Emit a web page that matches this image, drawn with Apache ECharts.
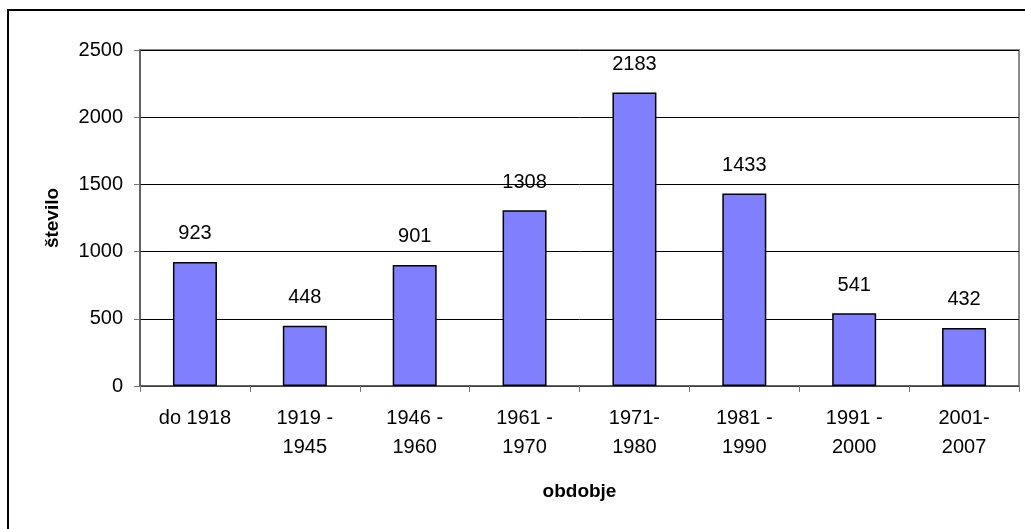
<!DOCTYPE html>
<html>
<head>
<meta charset="utf-8">
<script src="https://cdn.jsdelivr.net/npm/echarts@6/dist/echarts.min.js"></script>
<style>
  html, body { margin: 0; padding: 0; background: #fff; }
  #chart { width: 1025px; height: 529px; }
</style>
</head>
<body>
<div id="chart"></div>
<script>
// obdobja (x os) in število (y os)
const categories = ['do 1918', '1919 -\n1945', '1946 -\n1960', '1961 -\n1970', '1971-\n1980', '1981 -\n1990', '1991 -\n2000', '2001-\n2007'];
const values = [923, 448, 901, 1308, 2183, 1433, 541, 432];
const yTicks = [0, 500, 1000, 1500, 2000, 2500];

const font = "'Liberation Sans', Arial, sans-serif";
const chart = echarts.init(document.getElementById('chart'));

const option = {
  backgroundColor: '#fff',
  animation: false,
  textStyle: { fontFamily: font },
  // zunanji okvir
  graphic: [{
    type: 'rect',
    shape: { x: 8, y: 10, width: 1040, height: 560 },
    style: { fill: 'none', stroke: '#000', lineWidth: 2 },
    silent: true
  }],
  grid: {
    left: 140,
    right: 6,
    top: 50,
    bottom: 143,
    show: true,
    borderColor: '#8c8c8c',
    borderWidth: 2
  },
  xAxis: {
    type: 'category',
    data: categories,
    name: 'obdobje',
    nameLocation: 'middle',
    nameGap: 96,
    nameTextStyle: { color: '#000', fontSize: 19, fontWeight: 'bold', fontFamily: font },
    axisLine: { lineStyle: { color: '#555', width: 1.5 } },
    axisTick: { show: true, length: 6, lineStyle: { color: '#777' } },
    axisLabel: { color: '#000', fontSize: 20, lineHeight: 29, margin: 18, fontFamily: font }
  },
  yAxis: {
    type: 'value',
    min: yTicks[0],
    max: yTicks[yTicks.length - 1],
    interval: yTicks[1] - yTicks[0],
    name: 'število',
    nameLocation: 'middle',
    nameGap: 78,
    nameTextStyle: { color: '#000', fontSize: 19, fontWeight: 'bold', fontFamily: font },
    axisLine: { show: true, lineStyle: { color: '#555', width: 1.5 } },
    axisTick: { show: true, length: 6, lineStyle: { color: '#777' } },
    axisLabel: { color: '#000', fontSize: 20, margin: 17, fontFamily: font, formatter: v => String(v) },
    splitLine: { lineStyle: { color: '#000', width: 1 } }
  },
  series: [{
    type: 'bar',
    data: values,
    barWidth: 44,
    itemStyle: { color: '#8080ff', borderColor: '#000', borderWidth: 1.5 },
    label: {
      show: true,
      position: 'top',
      distance: 18,
      color: '#000',
      fontSize: 20,
      fontFamily: font
    }
  }]
};

chart.setOption(option);
</script>
</body>
</html>
